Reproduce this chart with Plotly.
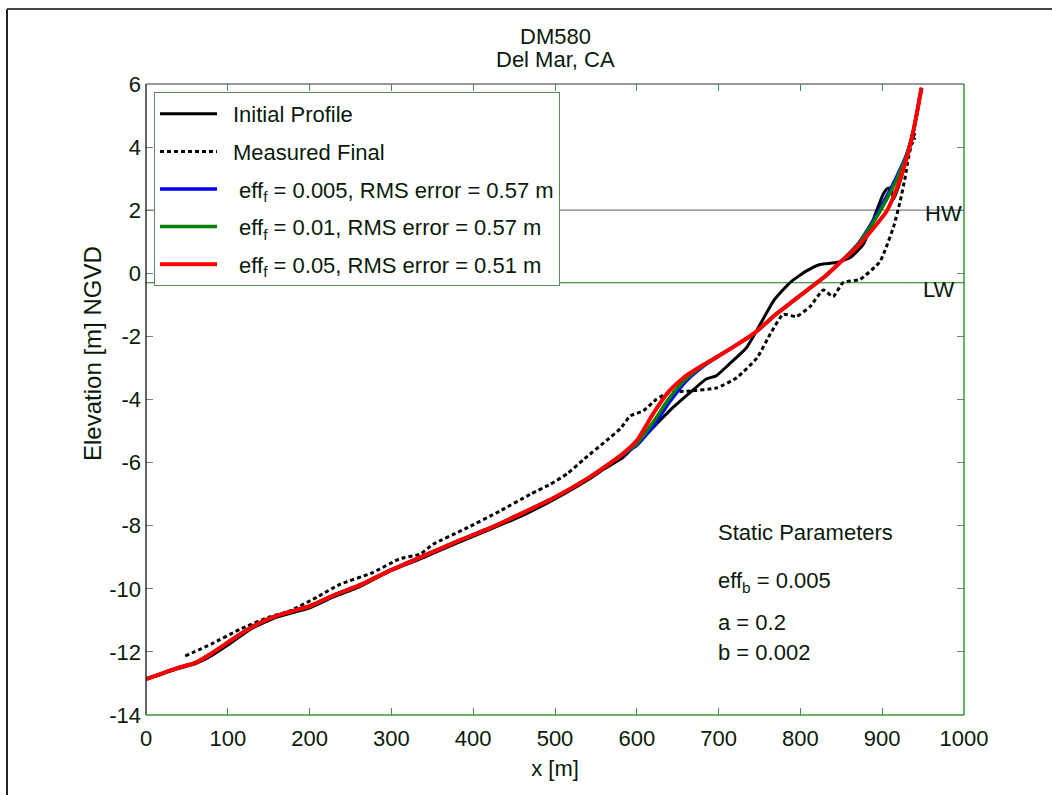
import plotly.graph_objects as go

# Cross-shore positions (m) and elevations (m NGVD)
initial_x = [0, 20, 40, 60, 80, 100, 130, 160, 200, 230, 260, 300, 340, 380, 420,
             460, 500, 540, 560, 583, 595, 610, 624, 644, 665, 685, 697, 713, 734,
             751, 767, 787, 807, 824, 844, 861, 877, 893, 901, 906, 911, 914, 920,
             930, 936, 940]
initial_y = [-12.86, -12.7, -12.52, -12.38, -12.12, -11.78, -11.25, -10.9, -10.6,
             -10.25, -9.95, -9.42, -9.0, -8.55, -8.12, -7.68, -7.15, -6.55, -6.2,
             -5.84, -5.53, -5.15, -4.78, -4.26, -3.78, -3.35, -3.25, -2.88, -2.36,
             -1.61, -0.88, -0.3, 0.07, 0.28, 0.34, 0.5, 0.92, 1.97, 2.5, 2.68, 2.7,
             2.35, 2.75, 3.65, 4.2, 4.45]

measured_x = [48, 80, 115, 150, 176, 210, 237, 277, 310, 335, 351, 390, 433, 470,
              494, 515, 535, 563, 580, 592, 608, 624, 640, 665, 698, 722, 747, 763,
              779, 795, 812, 828, 840, 852, 873, 897, 903, 914, 922, 928, 932, 936, 940]
measured_y = [-12.13, -11.75, -11.28, -10.9, -10.7, -10.25, -9.86, -9.49, -9.05,
              -8.9, -8.59, -8.1, -7.53, -7.0, -6.69, -6.35, -5.9, -5.3, -4.92, -4.52,
              -4.36, -3.99, -3.78, -3.73, -3.63, -3.31, -2.68, -1.93, -1.3, -1.37,
              -1.05, -0.53, -0.74, -0.3, -0.19, 0.36, 0.7, 1.48, 2.29, 3.03, 3.66,
              4.09, 4.3]

model_x = [0, 20, 40, 60, 80, 100, 130, 160, 200, 230, 260, 300, 340, 380, 420, 460,
           500, 540, 560, 580, 600, 620, 640, 660, 680, 700, 720, 745, 770, 790, 810,
           830, 850, 870, 890, 905, 918, 930, 938, 944, 948]
eff_005_y = [-12.86, -12.68, -12.5, -12.35, -12.05, -11.7, -11.2, -10.85, -10.55,
             -10.2, -9.9, -9.4, -8.95, -8.5, -8.08, -7.6, -7.1, -6.5, -6.15, -5.8,
             -5.45, -4.85, -4.08, -3.42, -2.97, -2.62, -2.3, -1.87, -1.3, -0.9, -0.5,
             -0.1, 0.38, 0.92, 1.72, 2.42, 3.08, 3.78, 4.5, 5.3, 5.88]
eff_01_y = [-12.86, -12.68, -12.5, -12.35, -12.05, -11.7, -11.2, -10.85, -10.55,
            -10.2, -9.9, -9.4, -8.95, -8.5, -8.08, -7.6, -7.1, -6.5, -6.15, -5.79,
            -5.4, -4.72, -3.95, -3.36, -2.95, -2.62, -2.3, -1.87, -1.3, -0.9, -0.5,
            -0.1, 0.38, 0.9, 1.65, 2.32, 3.0, 3.75, 4.5, 5.3, 5.88]
eff_05_y = [-12.86, -12.68, -12.5, -12.35, -12.05, -11.7, -11.2, -10.85, -10.55,
            -10.2, -9.9, -9.4, -8.95, -8.5, -8.08, -7.6, -7.1, -6.5, -6.15, -5.78,
            -5.3, -4.45, -3.72, -3.25, -2.92, -2.62, -2.3, -1.87, -1.3, -0.9, -0.5,
            -0.1, 0.38, 0.85, 1.45, 1.95, 2.7, 3.66, 4.5, 5.3, 5.88]

high_water = 2.0
low_water = -0.3

x_ticks = [0, 100, 200, 300, 400, 500, 600, 700, 800, 900, 1000]
x_tick_text = ["0", "100", "200", "300", "400", "500", "600", "700", "800", "900", "1000"]
y_ticks = [6, 4, 2, 0, -2, -4, -6, -8, -10, -12, -14]
y_tick_text = ["6", "4", "2", "0", "-2", "-4", "-6", "-8", "-10", "-12", "-14"]

W, H = 1052, 795
L, R, T, B = 146, 88, 84, 80
PW, PH = W - L - R, H - T - B


def px_x(p):
    return (p - L) / PW


def px_y(p):
    return (H - B - p) / PH


FONT = "Liberation Sans, Arial, sans-serif"
TXT = "#0a1a0a"
FS = 22
SMOOTH = dict(shape="spline", smoothing=0.5)
PAD = "\u2002"  # gap between legend line and label

fig = go.Figure()
fig.add_trace(go.Scatter(x=initial_x, y=initial_y, mode="lines",
                         name=PAD + "Initial Profile", legendgroup="a",
                         line=dict(color="black", width=3, **SMOOTH)))
fig.add_trace(go.Scatter(x=measured_x, y=measured_y, mode="lines",
                         name=PAD + "Measured Final", legendgroup="b",
                         line=dict(color="black", width=3, dash="4px,3px", **SMOOTH)))
fig.add_trace(go.Scatter(x=model_x, y=eff_005_y, mode="lines",
                         name=PAD + " eff<sub>f</sub> = 0.005, RMS error = 0.57 m",
                         legendgroup="c",
                         line=dict(color="#0000ff", width=3.5, **SMOOTH)))
fig.add_trace(go.Scatter(x=model_x, y=eff_01_y, mode="lines",
                         name=PAD + " eff<sub>f</sub> = 0.01, RMS error = 0.57 m",
                         legendgroup="d",
                         line=dict(color="#008000", width=3.5, **SMOOTH)))
fig.add_trace(go.Scatter(x=model_x, y=eff_05_y, mode="lines",
                         name=PAD + " eff<sub>f</sub> = 0.05, RMS error = 0.51 m",
                         legendgroup="e",
                         line=dict(color="#ff0000", width=4, **SMOOTH)))

shapes = [
    # water levels
    dict(type="line", xref="x", yref="y", x0=0, x1=1000, y0=high_water, y1=high_water,
         line=dict(color="#808080", width=1.2), layer="below"),
    dict(type="line", xref="x", yref="y", x0=0, x1=1000, y0=low_water, y1=low_water,
         line=dict(color="#108010", width=1.2), layer="below"),
    # axes box
    dict(type="line", xref="paper", yref="paper", x0=0, x1=0, y0=0, y1=1,
         line=dict(color="#111111", width=1.3)),
    dict(type="line", xref="paper", yref="paper", x0=0, x1=1, y0=1, y1=1,
         line=dict(color="#777777", width=1.3)),
    dict(type="line", xref="paper", yref="paper", x0=1, x1=1, y0=0, y1=1,
         line=dict(color="#1a8a1a", width=1.3)),
    dict(type="line", xref="paper", yref="paper", x0=0, x1=1, y0=0, y1=0,
         line=dict(color="#3a9a3a", width=1.3)),
    # outer frame
    dict(type="line", xref="paper", yref="paper", x0=px_x(7), x1=px_x(7),
         y0=px_y(H + 5), y1=px_y(9), line=dict(color="#222222", width=2)),
    dict(type="line", xref="paper", yref="paper", x0=px_x(7), x1=px_x(W + 5),
         y0=px_y(9), y1=px_y(9), line=dict(color="#444444", width=2)),
]


def label(text, x, y, xref="x", yref="y", xanchor="left", size=FS, angle=0):
    return dict(text=text, x=x, y=y, xref=xref, yref=yref, xanchor=xanchor,
                yanchor="middle", showarrow=False, textangle=angle,
                font=dict(size=size, color=TXT, family=FONT))


annotations = [
    label("DM580", 0.5, px_y(37), "paper", "paper", "center"),
    label("Del Mar, CA", 0.5, px_y(59), "paper", "paper", "center"),
    label("HW", 950, 1.9, xanchor="left"),
    label("LW", 947, -0.5, xanchor="left"),
    label("Static Parameters", 697, -8.2),
    label("eff<sub>b</sub> = 0.005", 697, -9.78),
    label("a = 0.2", 697, -11.08),
    label("b = 0.002", 697, -12.03),
    # y-axis title
    label("Elevation [m] NGVD", px_x(92), px_y(354), "paper", "paper", "center",
          size=24, angle=-90),
]

fig.update_layout(
    width=W, height=H,
    margin=dict(l=L, r=R, t=T, b=B),
    paper_bgcolor="white", plot_bgcolor="white",
    font=dict(family=FONT, size=FS, color=TXT),
    shapes=shapes, annotations=annotations,
    legend=dict(x=px_x(154), y=px_y(92), xanchor="left", yanchor="top",
                bgcolor="white", bordercolor="#5a8a5a", borderwidth=1,
                font=dict(size=FS, color=TXT, family=FONT), itemwidth=57,
                tracegroupgap=6),
    xaxis=dict(range=[0, 1000], tickvals=x_ticks, ticktext=x_tick_text,
               showgrid=False, zeroline=False,
               ticks="inside", ticklen=7, tickcolor="#4a8a4a", mirror="ticks",
               showline=False, ticklabelstandoff=8,
               tickfont=dict(size=FS, color=TXT, family=FONT),
               title=dict(text="x [m]", font=dict(size=FS, color=TXT), standoff=10)),
    yaxis=dict(range=[-14, 6], tickvals=y_ticks, ticktext=y_tick_text,
               showgrid=False, zeroline=False,
               ticks="inside", ticklen=7, tickcolor="#6a8a6a", mirror="ticks",
               showline=False, ticklabelstandoff=4,
               tickfont=dict(size=FS, color=TXT, family=FONT)),
)

fig.write_html("out.html")
